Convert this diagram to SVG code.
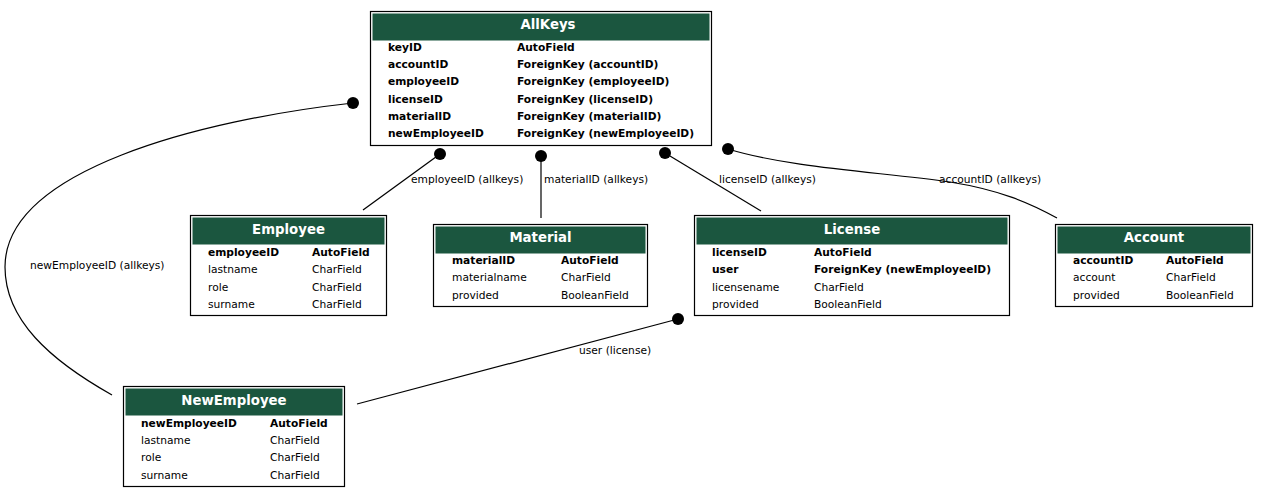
<svg xmlns="http://www.w3.org/2000/svg" width="1270" height="497" viewBox="0 0 1270 497">
  <style>
    text { font-family: "DejaVu Sans", "Liberation Sans", sans-serif; font-size: 10.67px; fill: #000; }
    .box { fill: #fff; stroke: #000; stroke-width: 1.2; }
    .head { fill: #1b563f; }
    .title { font-weight: bold; font-size: 13.3px; fill: #fff; text-anchor: middle; }
    .b { font-weight: bold; }
    .edge { fill: none; stroke: #000; stroke-width: 1.2; }
    .dot { fill: #000; }
  </style>
  <rect width="1270" height="497" fill="#fff"/>

  <g id="connectors">
    <path class="edge" d="M353,103 C200,120 5,170 5,267 C5,320 50,360 112,395"/>
    <circle class="dot" cx="353" cy="103" r="6"/>
    <text x="30" y="269">newEmployeeID (allkeys)</text>

    <path class="edge" d="M440,154 L363,210"/>
    <circle class="dot" cx="440" cy="154" r="6"/>
    <text x="411" y="183">employeeID (allkeys)</text>

    <path class="edge" d="M541,156 L541,218"/>
    <circle class="dot" cx="541" cy="156" r="6"/>
    <text x="544" y="183">materialID (allkeys)</text>

    <path class="edge" d="M665,153 L761,211"/>
    <circle class="dot" cx="665" cy="153" r="6"/>
    <text x="719" y="183">licenseID (allkeys)</text>

    <path class="edge" d="M728,149 C790,168 880,172 950,182 C1000,190 1030,203 1057,218"/>
    <circle class="dot" cx="728" cy="149" r="6"/>
    <text x="939" y="183">accountID (allkeys)</text>

    <path class="edge" d="M678,319 L357,404"/>
    <circle class="dot" cx="678" cy="319" r="6"/>
    <text x="579" y="354">user (license)</text>
  </g>

  <g id="AllKeys">
    <rect class="box" x="370.5" y="11.5" width="341" height="134"/>
    <rect class="head" x="372.5" y="13.5" width="337" height="27"/>
    <text class="title" x="548" y="29">AllKeys</text>
    <text class="b" x="388" y="51">keyID</text><text class="b" x="517" y="51">AutoField</text>
    <text class="b" x="388" y="68">accountID</text><text class="b" x="517" y="68">ForeignKey (accountID)</text>
    <text class="b" x="388" y="85">employeeID</text><text class="b" x="517" y="85">ForeignKey (employeeID)</text>
    <text class="b" x="388" y="103">licenseID</text><text class="b" x="517" y="103">ForeignKey (licenseID)</text>
    <text class="b" x="388" y="120">materialID</text><text class="b" x="517" y="120">ForeignKey (materialID)</text>
    <text class="b" x="388" y="137">newEmployeeID</text><text class="b" x="517" y="137">ForeignKey (newEmployeeID)</text>
  </g>

  <g id="Employee">
    <rect class="box" x="190.5" y="215.5" width="196" height="100"/>
    <rect class="head" x="192.5" y="217.5" width="192" height="27"/>
    <text class="title" x="288.5" y="234">Employee</text>
    <text class="b" x="208" y="256">employeeID</text><text class="b" x="312" y="256">AutoField</text>
    <text x="208" y="273">lastname</text><text x="312" y="273">CharField</text>
    <text x="208" y="291">role</text><text x="312" y="291">CharField</text>
    <text x="208" y="308">surname</text><text x="312" y="308">CharField</text>
  </g>

  <g id="Material">
    <rect class="box" x="433.5" y="224.5" width="214" height="82"/>
    <rect class="head" x="435.5" y="226.5" width="210" height="27"/>
    <text class="title" x="540.5" y="242">Material</text>
    <text class="b" x="452" y="264">materialID</text><text class="b" x="561" y="264">AutoField</text>
    <text x="452" y="281">materialname</text><text x="561" y="281">CharField</text>
    <text x="452" y="299">provided</text><text x="561" y="299">BooleanField</text>
  </g>

  <g id="License">
    <rect class="box" x="694.5" y="215.5" width="315" height="100"/>
    <rect class="head" x="696.5" y="217.5" width="311" height="27"/>
    <text class="title" x="852" y="234">License</text>
    <text class="b" x="712" y="256">licenseID</text><text class="b" x="814" y="256">AutoField</text>
    <text class="b" x="712" y="273">user</text><text class="b" x="814" y="273">ForeignKey (newEmployeeID)</text>
    <text x="712" y="291">licensename</text><text x="814" y="291">CharField</text>
    <text x="712" y="308">provided</text><text x="814" y="308">BooleanField</text>
  </g>

  <g id="Account">
    <rect class="box" x="1055.5" y="224.5" width="197" height="82"/>
    <rect class="head" x="1057.5" y="226.5" width="193" height="27"/>
    <text class="title" x="1154" y="242">Account</text>
    <text class="b" x="1073" y="264">accountID</text><text class="b" x="1166" y="264">AutoField</text>
    <text x="1073" y="281">account</text><text x="1166" y="281">CharField</text>
    <text x="1073" y="299">provided</text><text x="1166" y="299">BooleanField</text>
  </g>

  <g id="NewEmployee">
    <rect class="box" x="123.5" y="386.5" width="221" height="100"/>
    <rect class="head" x="125.5" y="388.5" width="217" height="27"/>
    <text class="title" x="234" y="405">NewEmployee</text>
    <text class="b" x="141" y="427">newEmployeeID</text><text class="b" x="270" y="427">AutoField</text>
    <text x="141" y="444">lastname</text><text x="270" y="444">CharField</text>
    <text x="141" y="461">role</text><text x="270" y="461">CharField</text>
    <text x="141" y="479">surname</text><text x="270" y="479">CharField</text>
  </g>
</svg>
